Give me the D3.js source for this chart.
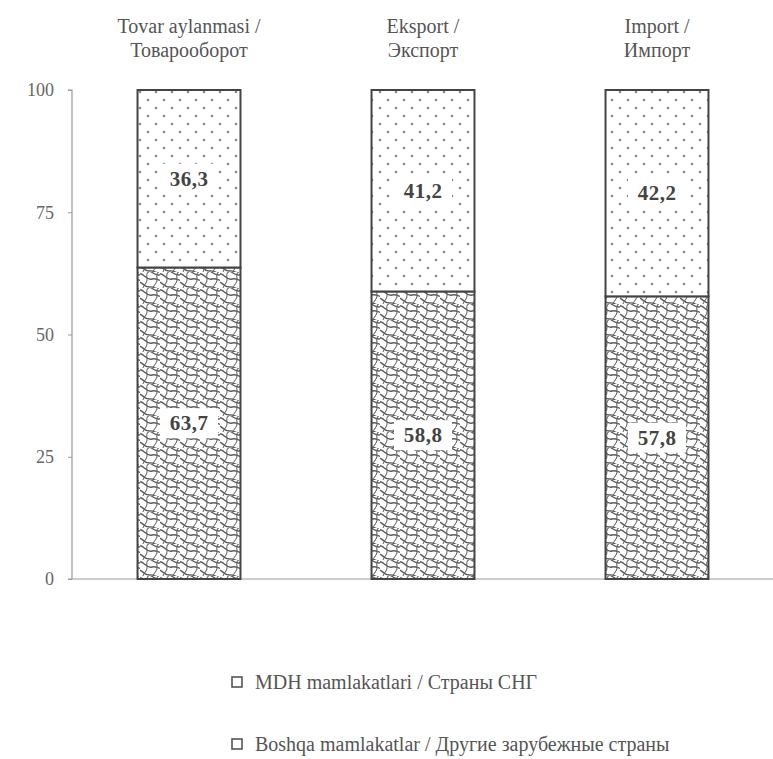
<!DOCTYPE html>
<html><head><meta charset="utf-8">
<script src="https://cdn.jsdelivr.net/npm/d3@7"></script>
<style>body{margin:0;background:#fff}svg{display:block}
text{font-family:"Liberation Serif","Times New Roman","DejaVu Serif",serif}</style>
</head><body>
<script>
const categories = ["Tovar aylanmasi /|Товарооборот", "Eksport /|Экспорт", "Import /|Импорт"];
const cisValues = [63.7, 58.8, 57.8];      // MDH mamlakatlari / Страны СНГ (hatched, bottom)
const otherValues = [36.3, 41.2, 42.2];    // Boshqa mamlakatlar (dotted, top)
const yTicks = [0, 25, 50, 75, 100];
const legendLabels = ["MDH mamlakatlari / Страны СНГ", "Boshqa mamlakatlar / Другие зарубежные страны"];
const fmt = v => String(v).replace(".", ",");
const FONT = '"Liberation Serif","Times New Roman","DejaVu Serif",serif';

const W = 773, H = 759;
const svg = d3.select("body").append("svg").attr("width", W).attr("height", H);
const defs = svg.append("defs");

// dotted pattern
const dp = defs.append("pattern").attr("id", "dots").attr("patternUnits", "userSpaceOnUse")
  .attr("width", 16).attr("height", 16);
dp.append("rect").attr("width", 16).attr("height", 16).attr("fill", "#fff");
dp.append("circle").attr("cx", 4).attr("cy", 4).attr("r", 1.3).attr("fill", "#8a8a8a");
dp.append("circle").attr("cx", 12).attr("cy", 12).attr("r", 1.3).attr("fill", "#8a8a8a");

// woven scale pattern
const hp = defs.append("pattern").attr("id", "weave").attr("patternUnits", "userSpaceOnUse")
  .attr("width", 20).attr("height", 16);
hp.append("rect").attr("width", 20).attr("height", 16).attr("fill", "#fff");
hp.append("path").attr("d", "M-2,2 C4,0 6,9 12,7 C16,6 18,8 22,9 M-2,10 C2,9 4,16 10,15 M8,-1 C12,-2 15,6 22,2 M10,15 C14,14 16,18 22,17")
  .attr("fill", "none").attr("stroke", "#5a5a5a").attr("stroke-width", 1.4);
hp.append("path").attr("d", "M3,16 C4,12 8,11 7,6 C6,2 8,0 9,0 M13,16 C14,12 18,11 17,6 C16,2 18,0 19,0")
  .attr("fill", "none").attr("stroke", "#6a6a6a").attr("stroke-width", 1.1);

const x = d3.scaleBand().domain(categories).range([72, 774]).paddingInner(0.56).paddingOuter(0.28);
const y = d3.scaleLinear().domain([0, 100]).range([579, 90]);

// axes
const yAxis = d3.axisLeft(y).tickValues(yTicks).tickSize(4).tickPadding(14);
const gy = svg.append("g").attr("transform", "translate(72,0)").call(yAxis);
gy.attr("font-family", FONT).attr("font-size", 18);
gy.select(".domain").attr("stroke", "#999").attr("stroke-width", 1.2).attr("d", "M-4,90H0V579");
gy.selectAll(".tick line").attr("stroke", "#999");
gy.selectAll(".tick text").attr("fill", "#666");

svg.append("line").attr("x1", 68).attr("x2", W).attr("y1", y(0)).attr("y2", y(0))
  .attr("stroke", "#999").attr("stroke-width", 1.2);

// bars
categories.forEach((c, i) => {
  const x0 = x(c), bw = x.bandwidth();
  svg.append("rect").attr("x", x0).attr("y", y(cisValues[i])).attr("width", bw)
    .attr("height", y(0) - y(cisValues[i])).attr("fill", "url(#weave)")
    .attr("stroke", "#444").attr("stroke-width", 2);
  svg.append("rect").attr("x", x0).attr("y", y(cisValues[i] + otherValues[i])).attr("width", bw)
    .attr("height", y(cisValues[i]) - y(cisValues[i] + otherValues[i])).attr("fill", "url(#dots)")
    .attr("stroke", "#444").attr("stroke-width", 2);

  const cx = x0 + bw / 2;
  const lbl = (val, yc) => {
    svg.append("rect").attr("x", cx - 29).attr("y", yc - 15).attr("width", 58).attr("height", 30).attr("fill", "#fff");
    svg.append("text").attr("x", cx).attr("y", yc + 7).attr("text-anchor", "middle")
      .attr("font-family", FONT).attr("font-size", 21).attr("letter-spacing", 0.5)
      .attr("font-weight", "bold").attr("fill", "#444").text(fmt(val));
  };
  lbl(cisValues[i], (y(0) + y(cisValues[i])) / 2);
  lbl(otherValues[i], (y(cisValues[i]) + y(cisValues[i] + otherValues[i])) / 2);

  const parts = c.split("|");
  parts.forEach((p, k) => {
    svg.append("text").attr("x", cx).attr("y", 33 + k * 24).attr("text-anchor", "middle")
      .attr("font-family", FONT).attr("font-size", 20)
      .attr("fill", "#555").text(p);
  });
});

// legend
legendLabels.forEach((t, i) => {
  const ly = 682 + i * 62;
  svg.append("rect").attr("x", 232).attr("y", ly - 5).attr("width", 10).attr("height", 10)
    .attr("fill", "#fff").attr("stroke", "#555").attr("stroke-width", 1.6);
  svg.append("text").attr("x", 255).attr("y", ly + 7)
    .attr("font-family", FONT).attr("font-size", 20)
    .attr("fill", "#555").text(t);
});
</script>
</body></html>
